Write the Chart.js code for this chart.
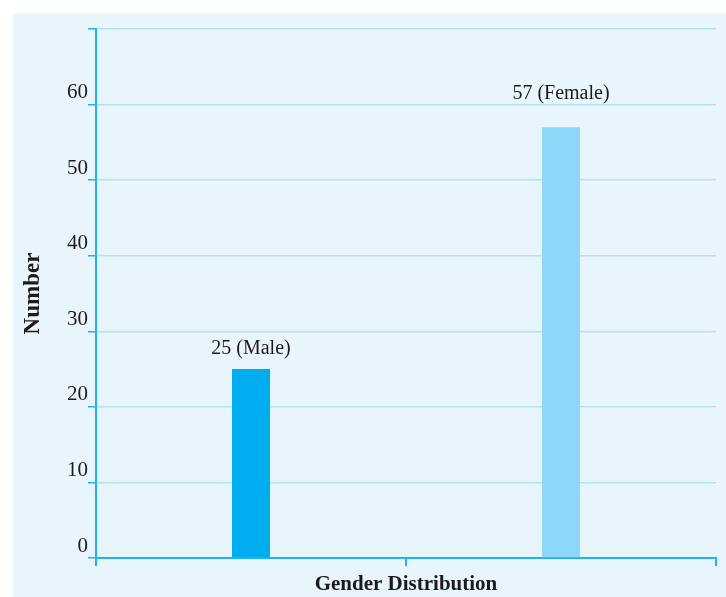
<!DOCTYPE html>
<html lang="en">
<head>
  <meta charset="UTF-8">
  <title>Gender Distribution</title>
  <script src="https://cdn.jsdelivr.net/npm/chart.js"></script>
  <style>
    html, body {
      margin: 0;
      padding: 0;
      background: #ffffff;
    }

    #chart-container {
      width: 726px;
      height: 597px;
    }
  </style>
</head>
<body>
  <div id="chart-container">
    <canvas id="genderChart"></canvas>
  </div>
  <script>
    // data
    const categories = ["Male", "Female"];
    const counts = [25, 57];
    const barColors = ["#00aeef", "#8dd8f8"];
    const yTicks = [0, 10, 20, 30, 40, 50, 60];

    const axisColor = "#1fb4ea";
    const gridColor = "#b3e2f6";
    const textColor = "#1e1a1b";
    const serif = "'Liberation Serif', 'Times New Roman', serif";

    // light blue panel behind the whole chart
    const panelPlugin = {
      id: "panel",
      beforeDraw(chart) {
        const ctx = chart.ctx;
        ctx.save();
        ctx.fillStyle = "#e8f5fc";
        ctx.fillRect(13, 14, chart.width - 13, chart.height - 14);
        ctx.restore();
      }
    };

    // "25 (Male)" style labels above each bar (the taller one sits above its gridline)
    const labelGap = [15, 28];
    const barLabelPlugin = {
      id: "barLabels",
      afterDatasetsDraw(chart) {
        const ctx = chart.ctx;
        const meta = chart.getDatasetMeta(0);
        ctx.save();
        ctx.font = "20px " + serif;
        ctx.fillStyle = textColor;
        ctx.textAlign = "center";
        ctx.textBaseline = "alphabetic";
        meta.data.forEach((bar, i) => {
          ctx.fillText(counts[i] + " (" + categories[i] + ")", bar.x, bar.y - labelGap[i]);
        });
        ctx.restore();
      }
    };

    const ctx = document.getElementById("genderChart").getContext("2d");
    new Chart(ctx, {
      type: "bar",
      data: {
        labels: categories,
        datasets: [{
          data: counts,
          backgroundColor: barColors,
          borderWidth: 0,
          barPercentage: 0.1226,
          categoryPercentage: 1
        }]
      },
      options: {
        responsive: true,
        maintainAspectRatio: false,
        animation: false,
        layout: {
          padding: { left: 0, right: 10, top: 29, bottom: 0 }
        },
        plugins: {
          legend: { display: false },
          tooltip: { enabled: false }
        },
        scales: {
          x: {
            offset: true,
            grid: {
              offset: true,
              drawOnChartArea: false,
              drawTicks: true,
              tickLength: 8,
              color: axisColor,
              lineWidth: 2
            },
            border: { color: axisColor, width: 2 },
            ticks: { callback: () => "" },
            title: {
              display: true,
              text: "Gender Distribution",
              color: textColor,
              font: { family: serif, size: 21, weight: "bold" },
              padding: { top: 0, bottom: 0 }
            },
            afterFit(scale) { scale.height = 39; }
          },
          y: {
            min: 0,
            max: 70,
            afterBuildTicks(scale) {
              scale.ticks = yTicks.concat([70]).map(v => ({ value: v }));
            },
            grid: {
              color: gridColor,
              tickColor: axisColor,
              lineWidth: 1.5,
              tickLength: 8
            },
            border: { color: axisColor, width: 2 },
            ticks: {
              padding: 0,
              labelOffset: -12,
              color: textColor,
              font: { family: serif, size: 21 },
              callback: v => (yTicks.includes(v) ? String(v) : "")
            },
            title: {
              display: true,
              text: "Number",
              color: textColor,
              font: { family: serif, size: 23, weight: "bold" },
              padding: { top: 19, bottom: 0 }
            },
            afterFit(scale) { scale.width = 96; }
          }
        }
      },
      plugins: [panelPlugin, barLabelPlugin]
    });
  </script>
</body>
</html>
